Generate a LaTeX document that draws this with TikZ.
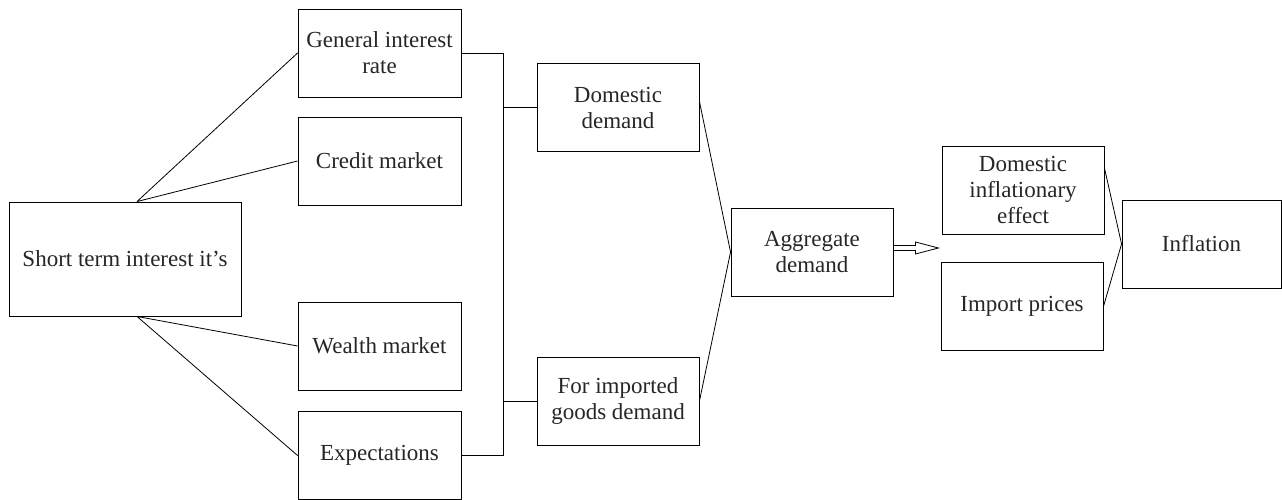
\documentclass[tikz,border=0pt]{standalone}
\usepackage{fontspec}
\setmainfont{Liberation Serif}
\usepackage{tikz}
\usetikzlibrary{calc}
\tikzset{
  box/.style={
    draw, line width=0.9pt, align=center, inner sep=2pt,
    minimum width=163pt, minimum height=88pt,
    font=\fontsize{23}{26}\selectfont, text=black!85
  },
  link/.style={line width=0.8pt},
  hollow/.style={line width=0.8pt, line join=miter}
}

\begin{document}
\begin{tikzpicture}[x=1pt,y=-1pt]
  \useasboundingbox (0,0) rectangle (1282,500);

  % Boxes
  \node[box, minimum width=232pt, minimum height=114pt] (short) at (125,259) {Short term interest it's};

  \node[box] (gen)    at (379.5,53)  {General interest\\rate};
  \node[box] (credit) at (379.5,161) {Credit market};
  \node[box] (wealth) at (379.5,346) {Wealth market};
  \node[box] (expect) at (379.5,455.5) {Expectations};

  \node[box, minimum width=162pt] (dom) at (618,107.5) {Domestic\\demand};
  \node[box, minimum width=162pt] (imp) at (618,401)   {For imported\\goods demand};

  \node[box, minimum width=162pt] (agg) at (812,252) {Aggregate\\demand};

  \node[box, minimum width=162pt] (die)  at (1023,190)   {Domestic\\inflationary\\effect};
  \node[box, minimum width=162pt] (impp) at (1022,306.5) {Import prices};

  \node[box, minimum width=159pt] (infl) at (1201.5,244) {Inflation};

  % Fan out of the short rate
  \coordinate (st) at ([xshift=12pt]short.north);
  \coordinate (sb) at ([xshift=12pt]short.south);
  \draw[link] (st) -- (gen.west) (st) -- (credit.west);
  \draw[link] (sb) -- (wealth.west) (sb) -- (expect.west);

  % Bracket to demand
  \coordinate (bus) at (503,0);
  \draw[link] (gen.east) -- (gen.east -| bus) -- (expect.east -| bus) -- (expect.east);
  \draw[link] (dom.west -| bus) -- (dom.west);
  \draw[link] (imp.west -| bus) -- (imp.west);

  % Demand joins
  \draw[link] ([yshift=6pt]dom.east) -- (agg.west) -- (imp.east);

  % Hollow arrow
  \coordinate (ah) at ([yshift=4pt]agg.east);
  \draw[hollow] (ah) ++(0,-2.5) -- ++(22,0) -- ++(0,-3.5) -- ++(23,6)
    -- ++(-23,6) -- ++(0,-3.5) -- ++(-22,0);

  % Price joins
  \draw[link] ([yshift=22pt]die.east) -- (infl.west) -- (impp.east);
\end{tikzpicture}
\end{document}
